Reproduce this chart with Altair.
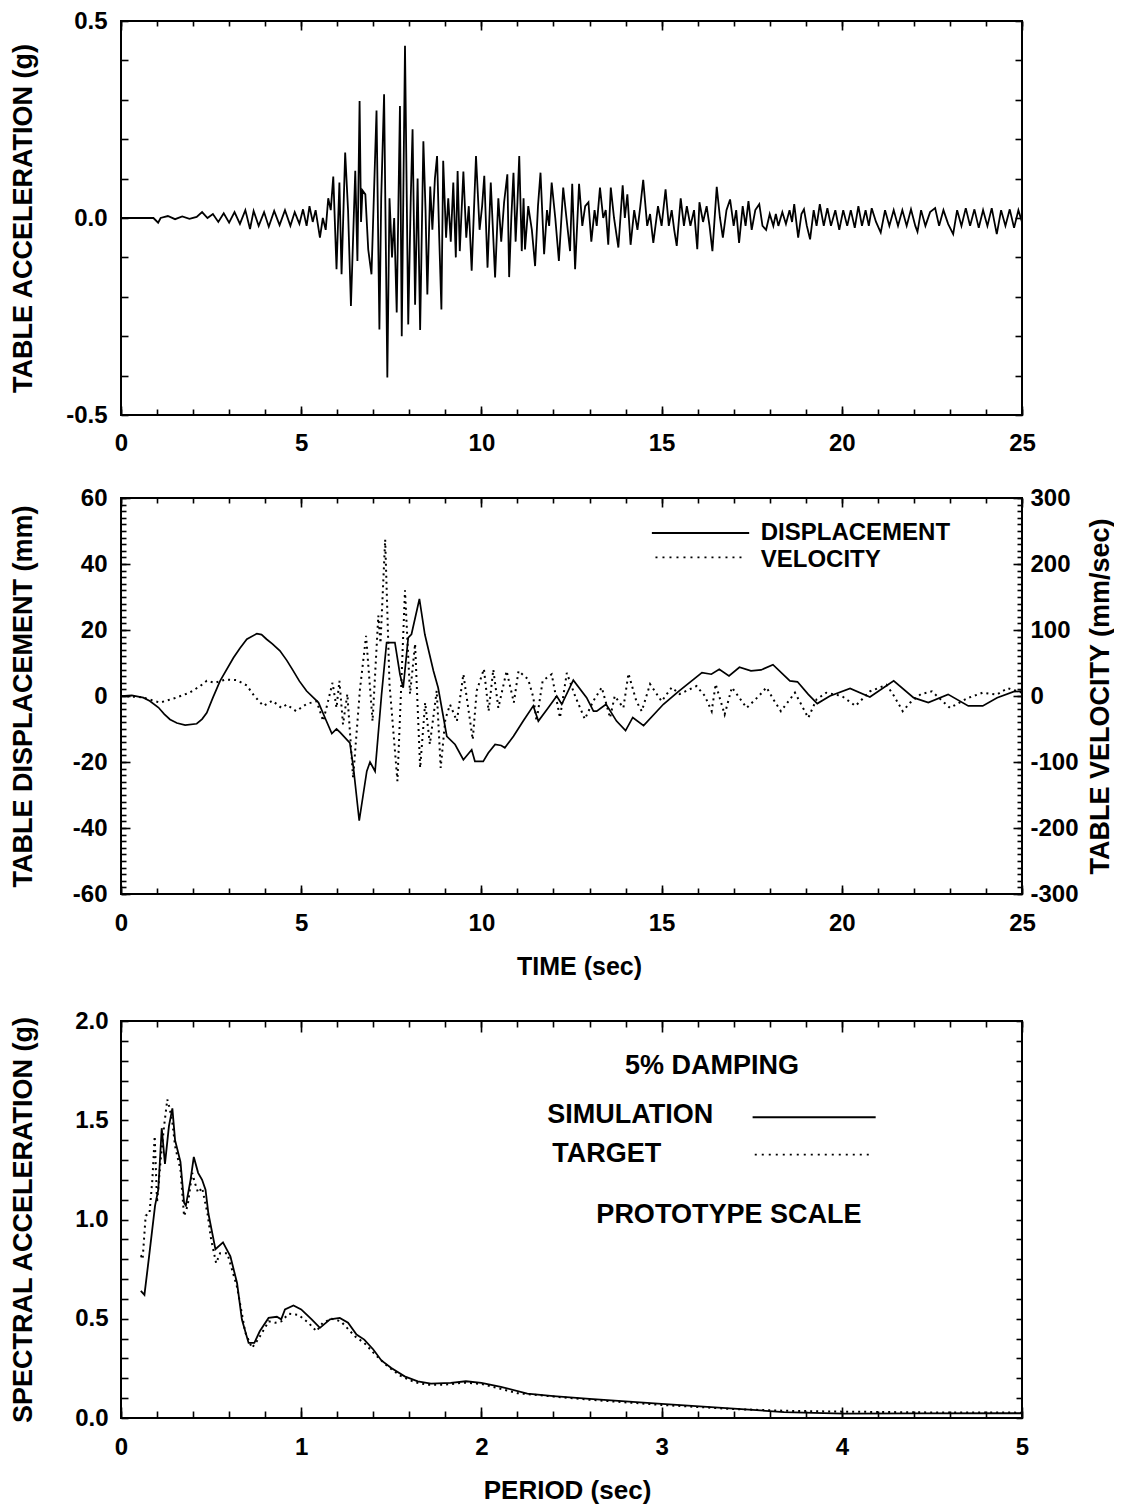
import altair as alt
import pandas as pd

# ---------------- data ----------------
# Panel 1: table acceleration (g) vs time (sec)
acc_time = [
    0.0, 0.5, 0.9, 1.03, 1.1, 1.3, 1.5, 1.7, 1.9, 2.1,
    2.25, 2.4, 2.55, 2.7, 2.85, 3.0, 3.15, 3.3, 3.45, 3.58,
    3.68, 3.82, 3.97, 4.1, 4.25, 4.4, 4.55, 4.7, 4.82, 4.95,
    5.05, 5.15, 5.23, 5.32, 5.4, 5.52, 5.6, 5.68, 5.75, 5.82,
    5.89, 5.98, 6.06, 6.12, 6.22, 6.3, 6.38, 6.5, 6.56, 6.62,
    6.66, 6.7, 6.78, 6.86, 6.95, 7.09, 7.17, 7.22, 7.3, 7.39,
    7.45, 7.52, 7.58, 7.65, 7.74, 7.79, 7.88, 7.97, 8.04, 8.09,
    8.16, 8.23, 8.3, 8.39, 8.45, 8.5, 8.58, 8.64, 8.71, 8.77,
    8.83, 8.89, 8.94, 9.02, 9.08, 9.15, 9.22, 9.29, 9.34, 9.4,
    9.5, 9.58, 9.65, 9.73, 9.85, 9.95, 10.02, 10.08, 10.17, 10.26,
    10.38, 10.47, 10.55, 10.63, 10.72, 10.77, 10.83, 10.89, 10.95, 11.0,
    11.05, 11.12, 11.17, 11.21, 11.3, 11.4, 11.49, 11.57, 11.64, 11.74,
    11.82, 11.88, 11.95, 12.05, 12.15, 12.27, 12.36, 12.46, 12.52, 12.6,
    12.71, 12.8, 12.88, 12.97, 13.05, 13.14, 13.2, 13.29, 13.38, 13.45,
    13.52, 13.59, 13.68, 13.8, 13.92, 13.98, 14.05, 14.14, 14.24, 14.33,
    14.41, 14.49, 14.6, 14.68, 14.77, 14.9, 15.0, 15.11, 15.2, 15.28,
    15.35, 15.42, 15.53, 15.62, 15.7, 15.8, 15.9, 15.99, 16.05, 16.15,
    16.25, 16.33, 16.41, 16.53, 16.62, 16.7, 16.8, 16.9, 17.0, 17.07,
    17.15, 17.25, 17.33, 17.41, 17.5, 17.6, 17.71, 17.8, 17.9, 18.0,
    18.1, 18.17, 18.24, 18.35, 18.45, 18.55, 18.62, 18.68, 18.79, 18.88,
    18.95, 19.03, 19.12, 19.22, 19.3, 19.39, 19.5, 19.6, 19.7, 19.82,
    19.93, 20.04, 20.15, 20.25, 20.36, 20.46, 20.56, 20.66, 20.75, 20.83,
    20.95, 21.08, 21.2, 21.32, 21.44, 21.56, 21.68, 21.8, 21.92, 22.04,
    22.1, 22.2, 22.32, 22.45, 22.59, 22.7, 22.82, 22.95, 23.09, 23.2,
    23.32, 23.44, 23.56, 23.68, 23.8, 23.92, 24.04, 24.16, 24.3, 24.42,
    24.54, 24.66, 24.78, 24.9, 25.0,
]
acc_g = [
    0.0, 0.0, 0.0, -0.012, 0.0, 0.005, -0.003, 0.004, -0.002, 0.003,
    0.015, 0.0, 0.01, -0.01, 0.012, -0.012, 0.015, -0.015, 0.02, -0.028,
    0.018, -0.02, 0.015, -0.022, 0.018, -0.018, 0.02, -0.02, 0.015, -0.015,
    0.022, -0.02, 0.03, -0.01, 0.02, -0.05, 0.0, -0.03, 0.05, 0.02,
    0.105, -0.13, 0.09, -0.143, 0.166, 0.02, -0.223, 0.12, -0.109, 0.297,
    -0.01, 0.07, 0.06, -0.08, -0.143, 0.273, -0.283, 0.05, 0.314, -0.405,
    0.05, -0.1, 0.0, -0.24, 0.284, -0.3, 0.437, -0.27, 0.05, 0.225,
    -0.22, 0.1, -0.284, 0.195, 0.02, -0.194, 0.08, -0.03, 0.1, 0.157,
    -0.05, -0.232, 0.145, -0.05, 0.05, -0.06, 0.09, -0.1, 0.119, -0.084,
    0.118, -0.05, 0.03, -0.134, 0.157, -0.03, 0.03, 0.107, -0.126, 0.09,
    -0.151, 0.05, -0.06, 0.04, 0.111, -0.15, 0.0, 0.115, -0.06, 0.04,
    0.157, -0.084, 0.05, -0.08, 0.03, -0.03, -0.122, 0.03, 0.115, -0.092,
    0.02, -0.02, 0.09, 0.0, -0.109, 0.077, 0.0, -0.084, 0.087, -0.13,
    0.087, -0.02, 0.03, 0.04, -0.06, 0.02, -0.02, 0.077, 0.0, 0.02,
    -0.068, 0.077, 0.0, -0.075, 0.083, 0.0, 0.06, -0.068, 0.02, -0.03,
    0.03, 0.097, -0.02, 0.01, -0.063, 0.03, -0.02, 0.073, -0.02, 0.02,
    -0.03, -0.071, 0.05, -0.02, 0.03, -0.02, 0.02, -0.079, 0.04, -0.01,
    0.03, -0.02, -0.084, 0.079, 0.0, -0.05, 0.02, 0.047, -0.02, 0.02,
    -0.063, 0.03, -0.02, 0.043, -0.03, 0.02, 0.035, -0.02, -0.03, 0.01,
    -0.02, 0.01, -0.02, 0.015, -0.015, 0.02, -0.01, 0.035, -0.05, 0.01,
    0.022, -0.02, -0.054, 0.02, -0.02, 0.035, -0.02, 0.025, -0.02, 0.02,
    -0.03, 0.02, -0.02, 0.02, -0.025, 0.03, -0.02, 0.02, -0.02, 0.025,
    -0.01, -0.037, 0.02, -0.02, 0.02, -0.02, 0.02, -0.02, 0.022, -0.02,
    -0.035, 0.02, -0.02, 0.015, 0.025, -0.02, 0.02, -0.015, -0.041, 0.02,
    -0.02, 0.025, -0.02, 0.022, -0.025, 0.02, -0.02, 0.025, -0.041, 0.02,
    -0.02, 0.022, -0.025, 0.02, -0.01,
]

# Panel 2: table displacement (mm) and velocity (mm/sec) vs time (sec)
disp_time = [
    0.0, 0.3, 0.62, 0.8, 1.04, 1.2, 1.36, 1.55, 1.78, 2.1,
    2.25, 2.38, 2.55, 2.75, 3.12, 3.3, 3.49, 3.77, 3.9, 4.04,
    4.2, 4.41, 4.6, 4.78, 4.95, 5.15, 5.48, 5.66, 5.85, 5.98,
    6.08, 6.35, 6.45, 6.61, 6.82, 6.91, 7.05, 7.23, 7.37, 7.6,
    7.74, 7.83, 7.97, 8.06, 8.28, 8.43, 8.67, 8.8, 9.04, 9.27,
    9.5, 9.73, 9.82, 10.05, 10.19, 10.38, 10.55, 10.65, 10.89, 11.16,
    11.44, 11.58, 11.86, 12.09, 12.23, 12.55, 12.92, 13.11, 13.2, 13.46,
    13.75, 14.0, 14.2, 14.5, 15.05, 15.48, 16.12, 16.38, 16.6, 16.87,
    17.16, 17.48, 17.76, 18.09, 18.56, 18.77, 19.07, 19.32, 19.67, 20.23,
    20.78, 21.44, 21.99, 22.4, 22.95, 23.51, 23.91, 24.31, 24.77, 25.0,
]
disp_mm = [
    0.0, 0.2, -0.5, -1.5, -3.5, -5.5, -7.1, -8.2, -8.8, -8.4,
    -7.0, -5.1, -0.5, 4.6, 11.6, 14.5, 17.2, 18.9, 18.6, 17.2,
    15.8, 13.7, 10.8, 7.6, 4.5, 1.5, -2.0, -6.6, -11.4, -10.0,
    -11.0, -14.2, -21.8, -37.8, -22.8, -20.0, -22.8, 0.5, 16.2, 16.2,
    6.6, 2.5, 17.7, 18.7, 29.4, 18.7, 7.6, 2.5, -12.2, -14.7,
    -19.3, -16.3, -19.8, -19.8, -17.3, -14.7, -15.0, -15.7, -12.2, -7.6,
    -3.0, -7.6, -3.5, 0.0, -2.5, 4.8, -0.5, -4.6, -4.6, -2.5,
    -7.6, -10.5, -6.5, -9.0, -2.5, 1.5, 7.1, 6.6, 8.1, 6.1,
    8.7, 7.6, 7.9, 9.5, 4.6, 4.3, 0.5, -2.3, 0.0, 2.3,
    -0.3, 4.6, -0.5, -2.0, 0.5, -3.0, -3.0, -0.5, 1.3, 1.5,
]
vel_time = [
    0.0, 0.6, 1.08, 1.5, 1.9, 2.2, 2.38, 2.6, 2.9, 3.21,
    3.49, 3.7, 3.95, 4.2, 4.45, 4.6, 4.86, 5.15, 5.43, 5.61,
    5.87, 5.98, 6.06, 6.16, 6.28, 6.44, 6.63, 6.8, 6.98, 7.14,
    7.2, 7.33, 7.45, 7.67, 7.88, 8.02, 8.16, 8.3, 8.44, 8.57,
    8.76, 8.87, 9.0, 9.13, 9.32, 9.5, 9.76, 9.87, 10.07, 10.2,
    10.33, 10.47, 10.7, 10.9, 11.03, 11.3, 11.44, 11.53, 11.7, 11.95,
    12.18, 12.37, 12.6, 12.87, 13.1, 13.34, 13.57, 13.7, 13.94, 14.08,
    14.3, 14.45, 14.68, 15.0, 15.28, 15.5, 15.97, 16.2, 16.39, 16.5,
    16.75, 16.95, 17.36, 17.7, 17.91, 18.1, 18.31, 18.7, 19.07, 19.3,
    19.57, 20.0, 20.38, 20.78, 21.24, 21.45, 21.69, 21.9, 22.2, 22.5,
    23.0, 23.5, 23.91, 24.3, 24.6, 25.0,
]
vel_mms = [
    0, -2, -10, -3, 5, 15, 23, 20, 25, 24,
    16, 0, -15, -7, -18, -13, -23, -12, -8, -38,
    20, -18, 23, -43, 3, -124, 10, 91, -38, 122,
    80, 237, 18, -129, 160, 3, 79, -109, -10, -73,
    8, -109, -35, -13, -38, 33, -66, 8, 41, -23,
    40, -18, 38, -10, 38, 25, -2, -38, 23, 33,
    -33, 35, 0, -35, -8, 13, -33, 0, -18, 34,
    -8, -23, 18, -8, 13, 3, 15, 0, -23, 18,
    -28, 13, -18, 0, 13, -5, -23, 5, -33, -5,
    5, 0, -15, 7, 17, 0, -23, -10, 3, 7,
    -18, -3, 5, 2, 12, 5,
]

# Panel 3: spectral acceleration (g) vs period (sec)
sa_period_sim = [
    0.11, 0.13, 0.156, 0.189, 0.207, 0.226, 0.244, 0.266, 0.285, 0.30,
    0.33, 0.35, 0.36, 0.386, 0.404, 0.428, 0.45, 0.469, 0.485, 0.524,
    0.566, 0.607, 0.644, 0.671, 0.708, 0.74, 0.77, 0.819, 0.865, 0.889,
    0.91, 0.957, 1.0, 1.058, 1.104, 1.16, 1.214, 1.26, 1.307, 1.35,
    1.40, 1.445, 1.50, 1.574, 1.647, 1.72, 1.83, 1.914, 2.0, 2.108,
    2.255, 2.4, 2.6, 3.0, 3.4, 3.68, 4.01, 4.41, 5.0,
]
sa_sim = [
    0.64, 0.62, 0.815, 1.07, 1.15, 1.46, 1.28, 1.47, 1.56, 1.40,
    1.29, 1.085, 1.07, 1.20, 1.315, 1.235, 1.20, 1.15, 1.03, 0.85,
    0.885, 0.815, 0.68, 0.496, 0.378, 0.378, 0.437, 0.504, 0.51, 0.497,
    0.547, 0.567, 0.547, 0.497, 0.454, 0.497, 0.504, 0.48, 0.42, 0.395,
    0.345, 0.29, 0.252, 0.21, 0.185, 0.173, 0.177, 0.185, 0.177, 0.157,
    0.123, 0.11, 0.096, 0.071, 0.047, 0.030, 0.022, 0.023, 0.024,
]
sa_period_tgt = [
    0.11, 0.12, 0.137, 0.158, 0.174, 0.187, 0.20, 0.22, 0.239, 0.257,
    0.27, 0.285, 0.30, 0.33, 0.35, 0.37, 0.395, 0.41, 0.428, 0.45,
    0.48, 0.50, 0.528, 0.55, 0.59, 0.644, 0.69, 0.727, 0.76, 0.82,
    0.855, 0.89, 0.93, 0.985, 1.04, 1.085, 1.12, 1.17, 1.22, 1.30,
    1.35, 1.41, 1.48, 1.55, 1.63, 1.70, 1.80, 1.90, 2.0, 2.2,
    2.4, 2.6, 3.0, 3.4, 3.7, 4.0, 4.5, 5.0,
]
sa_tgt = [
    0.82, 0.80, 1.02, 1.03, 1.20, 1.42, 1.085, 1.30, 1.47, 1.605,
    1.56, 1.49, 1.37, 1.25, 1.017, 1.07, 1.235, 1.185, 1.135, 1.16,
    1.03, 0.90, 0.78, 0.83, 0.83, 0.66, 0.43, 0.353, 0.395, 0.487,
    0.48, 0.487, 0.525, 0.52, 0.48, 0.437, 0.48, 0.50, 0.487, 0.41,
    0.378, 0.32, 0.26, 0.213, 0.18, 0.168, 0.168, 0.178, 0.172, 0.125,
    0.108, 0.092, 0.066, 0.045, 0.036, 0.032, 0.028, 0.027,
]

# ---------------- axis tick labels / tick positions ----------------
T_LABELS = [0, 5, 10, 15, 20, 25]
T_MINOR = list(range(0, 26))
P1_Y_LABELS = [-0.5, 0.0, 0.5]
P1_Y_TICKS = [round(-0.5 + 0.1 * i, 2) for i in range(11)]
P2_YL_LABELS = [-60, -40, -20, 0, 20, 40, 60]
P2_YL_MINOR = list(range(-60, 61, 2))
P2_YR_LABELS = [-300, -200, -100, 0, 100, 200, 300]
P2_YR_MINOR = list(range(-300, 301, 10))
P3_X_LABELS = [0, 1, 2, 3, 4, 5]
P3_X_MINOR = [round(0.2 * i, 2) for i in range(26)]
P3_Y_LABELS = [0.0, 0.5, 1.0, 1.5, 2.0]
P3_Y_TICKS = [round(0.1 * i, 2) for i in range(21)]

# legend / annotation text
P2_LEGEND = ["DISPLACEMENT", "VELOCITY"]
P3_LEGEND = ["SIMULATION", "TARGET", "PROTOTYPE SCALE"]
P3_HEADER = "5% DAMPING"

# ---------------- layout constants ----------------
FONT = "Liberation Sans"
W = 901
H1, H2, H3 = 394, 396, 397
GAP1, GAP2 = 83, 127
T_DOM = [0, 25]
YTITLE = 27
HYPHEN = "replace(datum.label, '\u2212', '-')"


def sc(dom):
    return alt.Scale(domain=dom, nice=False, zero=False)


def tick_axis(orient, values, size):
    # inward ticks: axis pushed inside the frame by its own tick length
    return alt.Axis(orient=orient, values=values, ticks=True, tickSize=size,
                    offset=-size, labels=False, domain=False, grid=False,
                    title=None, tickColor="black", tickWidth=1.6)


def label_axis(orient, values, fmt, pad, **kw):
    return alt.Axis(orient=orient, values=values, format=fmt, ticks=False,
                    tickSize=0, domain=False, grid=False, labelPadding=pad,
                    labelFlush=False, labelOverlap=False, labelExpr=HYPHEN, **kw)


def carrier(df, xf, yf, xdom, ydom, xaxis, yaxis):
    return alt.Chart(df).mark_point(opacity=0).encode(
        x=alt.X(xf, type="quantitative", scale=sc(xdom), axis=xaxis),
        y=alt.Y(yf, type="quantitative", scale=sc(ydom), axis=yaxis),
    )


def text_layer(df, xdom, ydom, size, align):
    return alt.Chart(df).mark_text(font=FONT, fontSize=size, fontWeight="bold",
                                   color="black", align=align, baseline="middle").encode(
        x=alt.X("x", type="quantitative", scale=sc(xdom), axis=None),
        y=alt.Y("y", type="quantitative", scale=sc(ydom), axis=None),
        text=alt.Text("label", type="nominal"),
    )


def rule_layer(df, xdom, ydom, dash):
    mk = dict(color="black", strokeWidth=1.8)
    if dash:
        mk["strokeDash"] = [2, 5]
    return alt.Chart(df).mark_rule(**mk).encode(
        x=alt.X("x1", type="quantitative", scale=sc(xdom), axis=None),
        x2=alt.X2("x2"),
        y=alt.Y("y", type="quantitative", scale=sc(ydom), axis=None),
    )


def left_title(text, h):
    return dict(title=text, titleX=-97.5, titleY=h / 2, titleAngle=270,
                titleAlign="center", titleBaseline="middle", titleFontSize=YTITLE)


# ---------------- panel 1 ----------------
acc_df = pd.DataFrame({"t": acc_time, "a": acc_g})
Y1 = [-0.5, 0.5]
p1_line = alt.Chart(acc_df).mark_line(color="black", strokeWidth=1.8).encode(
    x=alt.X("t", type="quantitative", scale=sc(T_DOM),
            axis=label_axis("bottom", T_LABELS, "d", 16, title=None)),
    y=alt.Y("a", type="quantitative", scale=sc(Y1),
            axis=label_axis("left", P1_Y_LABELS, ".1f", 14,
                            **left_title("TABLE ACCELERATION (g)", H1))),
)
p1 = alt.layer(
    p1_line,
    carrier(acc_df, "t", "a", T_DOM, Y1, tick_axis("bottom", T_MINOR, 6), tick_axis("left", P1_Y_TICKS, 7)),
    carrier(acc_df, "t", "a", T_DOM, Y1, tick_axis("top", T_MINOR, 5), tick_axis("right", P1_Y_TICKS, 7)),
    carrier(acc_df, "t", "a", T_DOM, Y1, tick_axis("bottom", T_LABELS, 9), None),
    carrier(acc_df, "t", "a", T_DOM, Y1, tick_axis("top", T_LABELS, 9), None),
).resolve_axis(x="independent", y="independent").properties(width=W, height=H1)

# ---------------- panel 2 ----------------
disp_df = pd.DataFrame({"t": disp_time, "d": disp_mm})
vel_df = pd.DataFrame({"t": vel_time, "v": vel_mms})
YD = [-60, 60]
YV = [-300, 300]
p2_disp = alt.Chart(disp_df).mark_line(color="black", strokeWidth=1.7).encode(
    x=alt.X("t", type="quantitative", scale=sc(T_DOM),
            axis=label_axis("bottom", T_LABELS, "d", 17, title="TIME (sec)",
                            titleX=458, titleY=72, titleAlign="center", titleBaseline="middle")),
    y=alt.Y("d", type="quantitative", scale=sc(YD),
            axis=label_axis("left", P2_YL_LABELS, "d", 14,
                            **left_title("TABLE DISPLACEMENT (mm)", H2))),
)
p2_vel = alt.Chart(vel_df).mark_line(color="black", strokeWidth=2, strokeDash=[2, 4]).encode(
    x=alt.X("t", type="quantitative", scale=sc(T_DOM), axis=None),
    y=alt.Y("v", type="quantitative", scale=sc(YV),
            axis=label_axis("right", P2_YR_LABELS, "d", 8,
                            title="TABLE VELOCITY (mm/sec)", titleX=78, titleY=H2 / 2,
                            titleAngle=270, titleAlign="center", titleBaseline="middle",
                            titleFontSize=YTITLE)),
)
p2_leg_text = pd.DataFrame({"label": P2_LEGEND, "x": [17.75, 17.75], "y": [49.4, 41.3]})
p2_leg_solid = pd.DataFrame({"x1": [14.73], "x2": [17.43], "y": [49.4]})
p2_leg_dot = pd.DataFrame({"x1": [14.83], "x2": [17.27], "y": [42.0]})
p2 = alt.layer(
    p2_disp,
    p2_vel,
    carrier(disp_df, "t", "d", T_DOM, YD, tick_axis("bottom", T_MINOR, 6), tick_axis("left", P2_YL_MINOR, 5)),
    carrier(vel_df, "t", "v", T_DOM, YV, tick_axis("top", T_MINOR, 5), tick_axis("right", P2_YR_MINOR, 5)),
    carrier(disp_df, "t", "d", T_DOM, YD, tick_axis("bottom", T_LABELS, 9), tick_axis("left", P2_YL_LABELS, 9)),
    carrier(vel_df, "t", "v", T_DOM, YV, tick_axis("top", T_LABELS, 9), tick_axis("right", P2_YR_LABELS, 9)),
    rule_layer(p2_leg_solid, T_DOM, YD, False),
    rule_layer(p2_leg_dot, T_DOM, YD, True),
    text_layer(p2_leg_text, T_DOM, YD, 24, "left"),
).resolve_scale(y="independent").resolve_axis(x="independent", y="independent").properties(width=W, height=H2)

# ---------------- panel 3 ----------------
sim_df = pd.DataFrame({"T": sa_period_sim, "sa": sa_sim})
tgt_df = pd.DataFrame({"T": sa_period_tgt, "sa": sa_tgt})
XP = [0, 5]
YS = [0, 2]
p3_sim = alt.Chart(sim_df).mark_line(color="black", strokeWidth=1.8).encode(
    x=alt.X("T", type="quantitative", scale=sc(XP),
            axis=label_axis("bottom", P3_X_LABELS, "d", 17, title="PERIOD (sec)",
                            titleX=446, titleY=72, titleAlign="center", titleBaseline="middle",
                            titleFontSize=26)),
    y=alt.Y("sa", type="quantitative", scale=sc(YS),
            axis=label_axis("left", P3_Y_LABELS, ".1f", 13,
                            **left_title("SPECTRAL ACCELERATION (g)", H3))),
)
p3_tgt = alt.Chart(tgt_df).mark_line(color="black", strokeWidth=2, strokeDash=[2, 4]).encode(
    x=alt.X("T", type="quantitative", scale=sc(XP), axis=None),
    y=alt.Y("sa", type="quantitative", scale=sc(YS), axis=None),
)
p3_leg_text = pd.DataFrame({"label": P3_LEGEND, "x": [2.366, 2.393, 2.638], "y": [1.525, 1.331, 1.021]})
p3_head = pd.DataFrame({"label": [P3_HEADER], "x": [3.28], "y": [1.772]})
p3_leg_solid = pd.DataFrame({"x1": [3.505], "x2": [4.188], "y": [1.515]})
p3_leg_dot = pd.DataFrame({"x1": [3.517], "x2": [4.161], "y": [1.327]})
p3 = alt.layer(
    p3_sim,
    p3_tgt,
    carrier(sim_df, "T", "sa", XP, YS, tick_axis("bottom", P3_X_MINOR, 7), tick_axis("left", P3_Y_TICKS, 7)),
    carrier(sim_df, "T", "sa", XP, YS, tick_axis("top", P3_X_MINOR, 6), tick_axis("right", P3_Y_TICKS, 6)),
    carrier(sim_df, "T", "sa", XP, YS, tick_axis("bottom", P3_X_LABELS, 11), None),
    carrier(sim_df, "T", "sa", XP, YS, tick_axis("top", P3_X_LABELS, 11), None),
    rule_layer(p3_leg_solid, XP, YS, False),
    rule_layer(p3_leg_dot, XP, YS, True),
    text_layer(p3_leg_text, XP, YS, 27, "left"),
    text_layer(p3_head, XP, YS, 27, "center"),
).resolve_axis(x="independent", y="independent").properties(width=W, height=H3)


def spacer(h):
    return alt.Chart(pd.DataFrame({"s": [0]})).mark_point(opacity=0).encode(
        x=alt.X("s", type="quantitative", axis=None),
        y=alt.Y("s", type="quantitative", axis=None),
    ).properties(width=W, height=h, view=alt.ViewBackground(strokeOpacity=0))


chart = alt.vconcat(
    p1, spacer(GAP1), p2, spacer(GAP2), p3, spacing=0, bounds="flush"
).properties(
    padding=0, background="white"
).configure_view(
    stroke="black", strokeWidth=2
).configure_axis(
    labelFont=FONT, labelFontSize=24, labelFontWeight="bold", labelColor="black",
    titleFont=FONT, titleFontSize=25, titleFontWeight="bold", titleColor="black",
)

chart.save("out.html", embed_options={"renderer": "svg", "actions": False})
